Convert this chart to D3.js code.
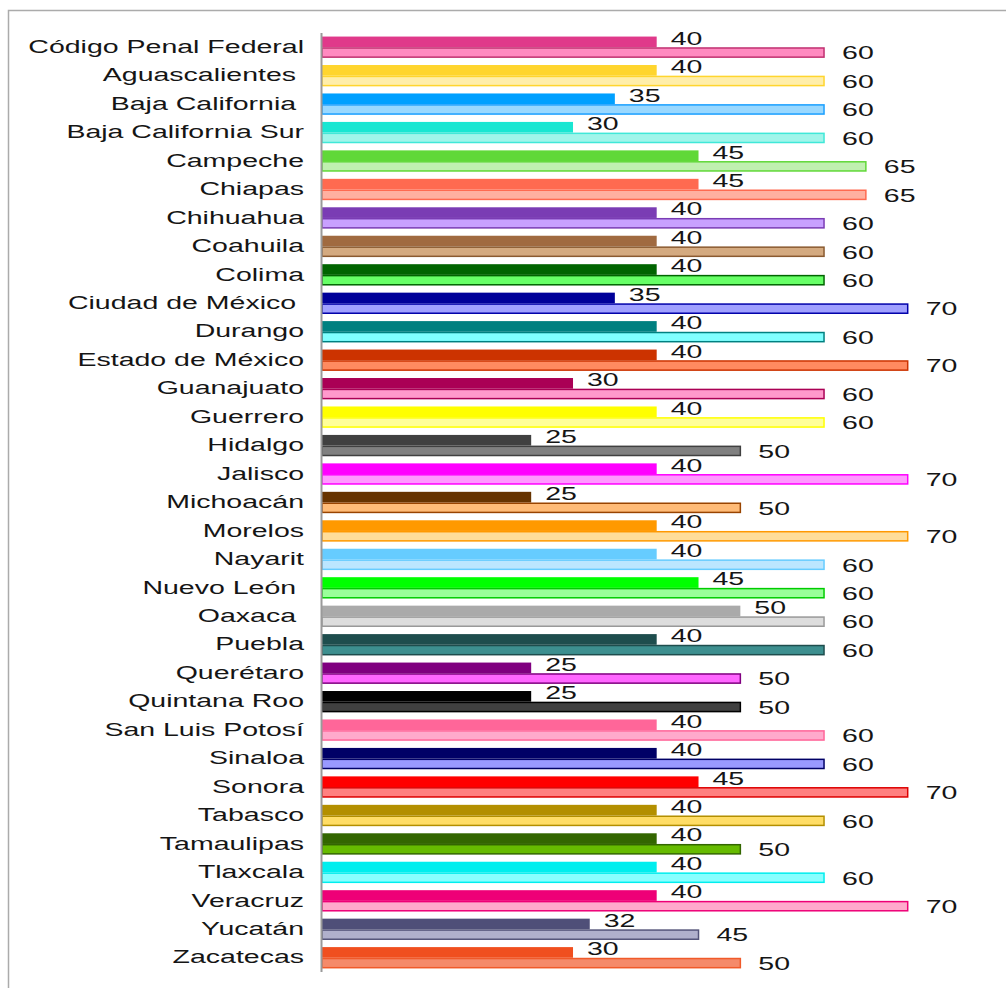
<!DOCTYPE html>
<html>
<head>
<meta charset="utf-8">
<script src="https://cdn.jsdelivr.net/npm/d3@7"></script>
<style>
    body { margin: 0; background: #fff; }
    svg text { font-family: "Liberation Sans", Arial, sans-serif; fill: #151515; white-space: pre; }
</style>
</head>
<body>
<div id="chart"></div>
<script>
// Kategorien und Werte
const categories = [
    "Código Penal Federal", "Aguascalientes ", "Baja California ", "Baja California Sur",
    "Campeche", "Chiapas", "Chihuahua", "Coahuila", "Colima", "Ciudad de México ",
    "Durango", "Estado de México", "Guanajuato", "Guerrero", "Hidalgo", "Jalisco",
    "Michoacán", "Morelos", "Nayarit", "Nuevo León ", "Oaxaca ", "Puebla", "Querétaro",
    "Quintana Roo", "San Luis Potosí", "Sinaloa", "Sonora", "Tabasco", "Tamaulipas",
    "Tlaxcala", "Veracruz", "Yucatán", "Zacatecas"
];
const minValues = [40, 40, 35, 30, 45, 45, 40, 40, 40, 35, 40, 40, 30, 40, 25, 40, 25,
    40, 40, 45, 50, 40, 25, 25, 40, 40, 45, 40, 40, 40, 40, 32, 30];
const maxValues = [60, 60, 60, 60, 65, 65, 60, 60, 60, 70, 60, 70, 60, 60, 50, 70, 50,
    70, 60, 60, 60, 60, 50, 50, 60, 60, 70, 60, 50, 60, 70, 45, 50];

// Farben pro Kategorie
const darkColors = ["#e0398a", "#ffd52e", "#00a0ff", "#19e6d2", "#60d838", "#ff6a50",
    "#7a3cb4", "#a06a40", "#006400", "#000099", "#008080", "#cc3300", "#aa0055",
    "#ffff00", "#404040", "#ff00ff", "#663300", "#ff9900", "#66ccff", "#00ff00",
    "#aaaaaa", "#1e4d4d", "#800080", "#000000", "#ff6699", "#000066", "#ff0000",
    "#b38f00", "#336600", "#00eeee", "#ee0077", "#4f4f78", "#f04f1f"];
const lightColors = ["#ff8ac0", "#ffeeaa", "#99d8ff", "#a0f5ea", "#c0f0b0", "#ffb0a0",
    "#c8a0ff", "#d4aa80", "#66ff66", "#a0a0ff", "#80ffff", "#ff8a60", "#ff99cc",
    "#ffff99", "#808080", "#ff99ff", "#ffbb77", "#ffdd99", "#bbe6ff", "#99ff99",
    "#dddddd", "#3d8f8f", "#ff66ff", "#404040", "#ffaacc", "#9999ff", "#ff8080",
    "#ffdd66", "#66bb00", "#88ffff", "#ffaacc", "#b0b0cc", "#f58a6a"];
const strokeColors = ["#c03070", "#ffd52e", "#1a9fff", "#40e8d8", "#60d838", "#ff6a50",
    "#7a3cb4", "#8a5a30", "#006400", "#0000aa", "#008080", "#cc3300", "#aa0055",
    "#ffff00", "#404040", "#ff00ff", "#994400", "#ff9900", "#66ccff", "#00cc00",
    "#999999", "#1e4d4d", "#800080", "#000000", "#ff6699", "#000066", "#dd0000",
    "#b38f00", "#336600", "#00eeee", "#ee0077", "#55557a", "#f05a2a"];

const width = 1006;
const height = 988;
const stretch = 1.5; // Text ist im Original horizontal gestreckt

const rows = categories.map((c, i) => ({
    name: c, min: minValues[i], max: maxValues[i],
    dark: darkColors[i], light: lightColors[i], stroke: strokeColors[i]
}));

const svg = d3.select("#chart")
    .append("svg")
    .attr("width", width)
    .attr("height", height);

// Rahmen oben und links
svg.append("path")
    .attr("d", `M8.5,${height} V10.5 H${width}`)
    .attr("fill", "none")
    .attr("stroke", "#ababab")
    .attr("stroke-width", 1.5);

const x = d3.scaleLinear()
    .domain([0, 70])
    .range([322, 907.7]);

const y = d3.scaleBand()
    .domain(categories)
    .range([33, 972])
    .paddingInner(0.25)
    .paddingOuter(0.125);

const sub = d3.scaleBand()
    .domain(["min", "max"])
    .range([0, y.bandwidth()]);

const group = svg.append("g")
    .selectAll("g")
    .data(rows)
    .join("g")
    .attr("transform", d => `translate(0,${y(d.name)})`);

// dunkler Balken (min)
group.append("rect")
    .attr("x", x(0))
    .attr("y", sub("min"))
    .attr("width", d => x(d.min) - x(0))
    .attr("height", sub.bandwidth())
    .attr("fill", d => d.dark);

// heller Balken (max) mit Rand
group.append("rect")
    .attr("x", x(0))
    .attr("y", sub("max") + 0.75)
    .attr("width", d => x(d.max) - x(0))
    .attr("height", sub.bandwidth() - 1.5)
    .attr("fill", d => d.light)
    .attr("stroke", d => d.stroke)
    .attr("stroke-width", 1.5);

// Werte-Beschriftungen
group.append("text")
    .attr("transform", d => `translate(${x(d.min) + 14},${sub("min") + 1.5}) scale(${stretch},1)`)
    .attr("dy", "0.35em")
    .style("font-size", "19px")
    .text(d => d.min);

group.append("text")
    .attr("transform", d => `translate(${x(d.max) + 18},${sub("max") + 5.5}) scale(${stretch},1)`)
    .attr("dy", "0.35em")
    .style("font-size", "19px")
    .text(d => d.max);

// Kategorie-Beschriftungen
group.append("text")
    .attr("transform", d => `translate(304,${y.bandwidth() / 2 - 1}) scale(${stretch},1)`)
    .attr("dy", "0.35em")
    .attr("text-anchor", "end")
    .style("font-size", "19px")
    .text(d => d.name);

// Achse
svg.append("line")
    .attr("x1", x(0) - 0.5)
    .attr("x2", x(0) - 0.5)
    .attr("y1", 33)
    .attr("y2", 972)
    .attr("stroke", "#9a9a9a")
    .attr("stroke-width", 2);
</script>
</body>
</html>
